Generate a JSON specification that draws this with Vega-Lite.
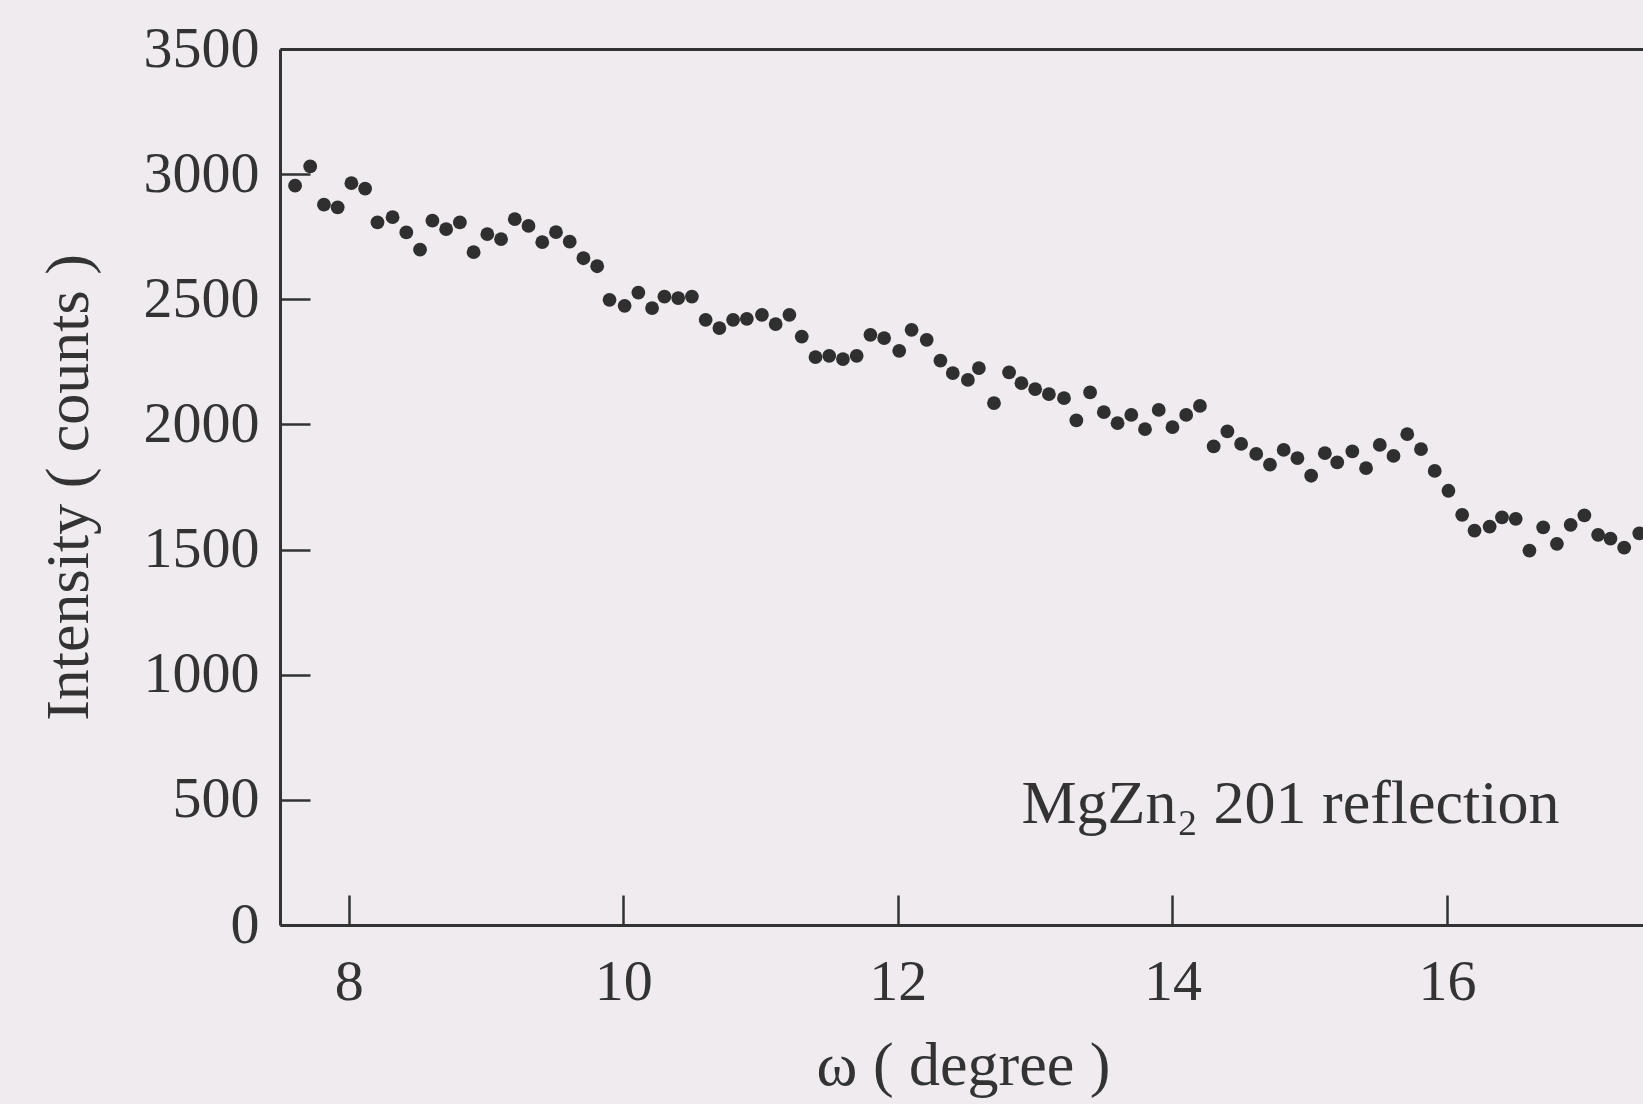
{
  "$schema": "https://vega.github.io/schema/vega-lite/v6.json",
  "width": 1363,
  "height": 876,
  "autosize": {"type": "none"},
  "padding": {"left": 280, "top": 49, "right": 0, "bottom": 179},
  "background": "#EFEBEF",
  "config": {
    "view": {"stroke": null},
    "font": "Liberation Serif",
    "axis": {"grid": false, "domainColor": "#333333", "domainWidth": 3, "tickColor": "#333333", "tickWidth": 2.5, "labelColor": "#333333", "titleColor": "#333333", "labelFont": "Liberation Serif", "titleFont": "Liberation Serif", "labelFontSize": 58, "titleFontSize": 62, "titleFontWeight": "normal"}
  },
  "datasets": {
    "scan": [
      {"w": 7.61, "v": 2954}, {"w": 7.72, "v": 3031}, {"w": 7.82, "v": 2878}, {"w": 7.92, "v": 2867},
      {"w": 8.02, "v": 2964}, {"w": 8.12, "v": 2942}, {"w": 8.21, "v": 2807}, {"w": 8.32, "v": 2828},
      {"w": 8.42, "v": 2767}, {"w": 8.52, "v": 2698}, {"w": 8.61, "v": 2814}, {"w": 8.71, "v": 2780},
      {"w": 8.81, "v": 2807}, {"w": 8.91, "v": 2688}, {"w": 9.01, "v": 2760}, {"w": 9.11, "v": 2740},
      {"w": 9.21, "v": 2820}, {"w": 9.31, "v": 2793}, {"w": 9.41, "v": 2728}, {"w": 9.51, "v": 2768},
      {"w": 9.61, "v": 2730}, {"w": 9.71, "v": 2664}, {"w": 9.81, "v": 2632}, {"w": 9.90, "v": 2498},
      {"w": 10.01, "v": 2474}, {"w": 10.11, "v": 2527}, {"w": 10.21, "v": 2465}, {"w": 10.30, "v": 2511},
      {"w": 10.40, "v": 2505}, {"w": 10.50, "v": 2511}, {"w": 10.60, "v": 2418}, {"w": 10.70, "v": 2385},
      {"w": 10.80, "v": 2418}, {"w": 10.90, "v": 2422}, {"w": 11.01, "v": 2438}, {"w": 11.11, "v": 2401},
      {"w": 11.21, "v": 2438}, {"w": 11.30, "v": 2351}, {"w": 11.40, "v": 2269}, {"w": 11.50, "v": 2274},
      {"w": 11.60, "v": 2261}, {"w": 11.70, "v": 2274}, {"w": 11.80, "v": 2358}, {"w": 11.90, "v": 2345},
      {"w": 12.01, "v": 2294}, {"w": 12.10, "v": 2378}, {"w": 12.21, "v": 2338}, {"w": 12.31, "v": 2255},
      {"w": 12.40, "v": 2205}, {"w": 12.51, "v": 2178}, {"w": 12.59, "v": 2225}, {"w": 12.70, "v": 2085},
      {"w": 12.81, "v": 2208}, {"w": 12.90, "v": 2165}, {"w": 13.00, "v": 2141}, {"w": 13.10, "v": 2121},
      {"w": 13.21, "v": 2105}, {"w": 13.30, "v": 2016}, {"w": 13.40, "v": 2128}, {"w": 13.50, "v": 2049},
      {"w": 13.60, "v": 2005}, {"w": 13.70, "v": 2038}, {"w": 13.80, "v": 1981}, {"w": 13.90, "v": 2058},
      {"w": 14.00, "v": 1989}, {"w": 14.10, "v": 2038}, {"w": 14.20, "v": 2074}, {"w": 14.30, "v": 1912},
      {"w": 14.40, "v": 1972}, {"w": 14.50, "v": 1922}, {"w": 14.61, "v": 1882}, {"w": 14.71, "v": 1839},
      {"w": 14.81, "v": 1898}, {"w": 14.91, "v": 1865}, {"w": 15.01, "v": 1795}, {"w": 15.11, "v": 1885},
      {"w": 15.20, "v": 1848}, {"w": 15.31, "v": 1892}, {"w": 15.41, "v": 1825}, {"w": 15.51, "v": 1918},
      {"w": 15.61, "v": 1874}, {"w": 15.71, "v": 1961}, {"w": 15.81, "v": 1901}, {"w": 15.91, "v": 1814},
      {"w": 16.01, "v": 1735}, {"w": 16.11, "v": 1639}, {"w": 16.20, "v": 1576}, {"w": 16.31, "v": 1592},
      {"w": 16.40, "v": 1629}, {"w": 16.50, "v": 1623}, {"w": 16.60, "v": 1496}, {"w": 16.70, "v": 1589},
      {"w": 16.80, "v": 1523}, {"w": 16.90, "v": 1599}, {"w": 17.00, "v": 1637}, {"w": 17.10, "v": 1559},
      {"w": 17.19, "v": 1544}, {"w": 17.29, "v": 1508}, {"w": 17.40, "v": 1565}
    ],
    "note": [{"w": 12.9, "v": 408, "label": "MgZn₂ 201 reflection"}]
  },
  "layer": [
    {
      "data": {"name": "scan"},
      "mark": {"type": "point", "filled": true, "size": 190, "color": "#2f2f2f", "opacity": 1, "clip": true},
      "encoding": {
        "x": {
          "field": "w", "type": "quantitative",
          "scale": {"domain": [7.5, 17.427], "nice": false, "zero": false},
          "axis": {"values": [8, 10, 12, 14, 16], "tickSize": -30, "labelPadding": 58, "labelBaseline": "top", "title": "ω ( degree )", "titleBaseline": "alphabetic", "titleY": 159, "titleAnchor": "middle", "titleX": 683}
        },
        "y": {
          "field": "v", "type": "quantitative",
          "scale": {"domain": [0, 3500], "nice": false},
          "axis": {"values": [0, 500, 1000, 1500, 2000, 2500, 3000, 3500], "format": "d", "tickSize": -30, "labelPadding": 51, "title": "Intensity ( counts )", "titleAngle": -90, "titleBaseline": "alphabetic", "titleX": -193, "titleY": 438, "titleAnchor": "middle"}
        }
      }
    },
    {
      "data": {"name": "note"},
      "mark": {"type": "text", "align": "left", "baseline": "alphabetic", "fontSize": 62, "font": "Liberation Serif", "color": "#333333"},
      "encoding": {
        "x": {"field": "w", "type": "quantitative", "axis": {"orient": "top", "labels": false, "ticks": false, "title": null, "domain": true}},
        "y": {"field": "v", "type": "quantitative"},
        "text": {"field": "label"}
      }
    }
  ],
  "resolve": {"axis": {"x": "independent"}}
}
